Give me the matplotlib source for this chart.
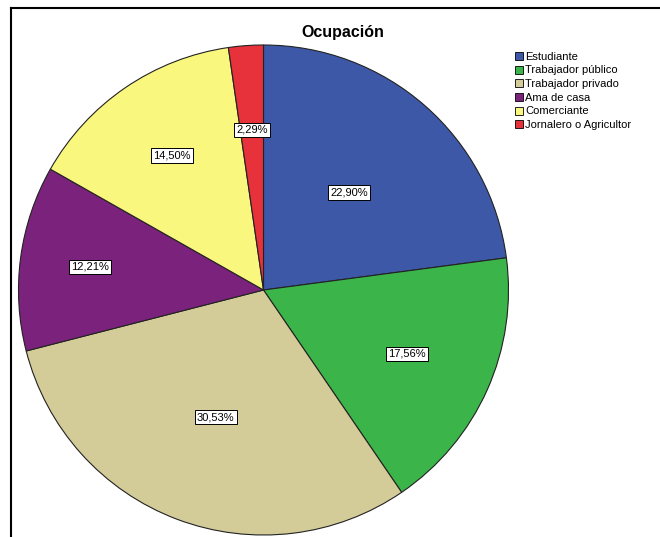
import matplotlib
matplotlib.use("Agg")
import numpy as np
import matplotlib.pyplot as plt
from matplotlib.lines import Line2D
from matplotlib.patches import Patch

plt.rcParams['font.family'] = ['Liberation Sans', 'DejaVu Sans']

categories = ["Estudiante", "Trabajador público", "Trabajador privado",
              "Ama de casa", "Comerciante", "Jornalero o Agricultor"]
values = [22.90, 17.56, 30.53, 12.21, 14.50, 2.29]
colors = ["#3E58A8", "#3BB54A", "#D3CC98", "#7B237C", "#FAF77F", "#E7313B"]
title = "Ocupación"
label_dist = [0.53, 0.64, 0.555, 0.715, 0.665, 0.655]

W, H = 660, 537
fig = plt.figure(figsize=(W / 100, H / 100), dpi=100)

cx, cy, r = 263.5, 290, 245
ax = fig.add_axes([(cx - r) / W, (H - cy - r) / H, 2 * r / W, 2 * r / H])
wedges, _ = ax.pie(values, colors=colors, startangle=90, counterclock=False,
                   radius=1.0, wedgeprops=dict(edgecolor="#222222", linewidth=0.8))
for w, v, d in zip(wedges, values, label_dist):
    ang = np.deg2rad((w.theta1 + w.theta2) / 2)
    ax.text(d * np.cos(ang), d * np.sin(ang), f"{v:.2f}%".replace(".", ","),
            ha="center", va="center", fontsize=8,
            bbox=dict(facecolor="white", edgecolor="black", linewidth=0.7, pad=1.6))
ax.set_xlim(-1, 1)
ax.set_ylim(-1, 1)
ax.set_aspect("auto")
ax.axis("off")

fig.text(343 / W, 1 - 33 / H, title, ha="center", va="center", fontsize=11.5, fontweight="bold")

handles = [Patch(facecolor=c, edgecolor="black", linewidth=0.6) for c in colors]
fig.legend(handles, categories, loc="upper left", bbox_to_anchor=(507 / W, 1 - 44 / H),
           frameon=False, fontsize=8, handlelength=0.75, handleheight=0.75,
           handletextpad=0.2, labelspacing=0.33, borderpad=0.2)

# Frame border
fig.add_artist(Line2D([11 / W, 1.0], [1 - 8 / H, 1 - 8 / H], color="black", linewidth=1.5,
                      transform=fig.transFigure))
fig.add_artist(Line2D([11 / W, 11 / W], [0, 1 - 8 / H], color="black", linewidth=1.5,
                      transform=fig.transFigure))

fig.savefig("out.png", dpi=100)
